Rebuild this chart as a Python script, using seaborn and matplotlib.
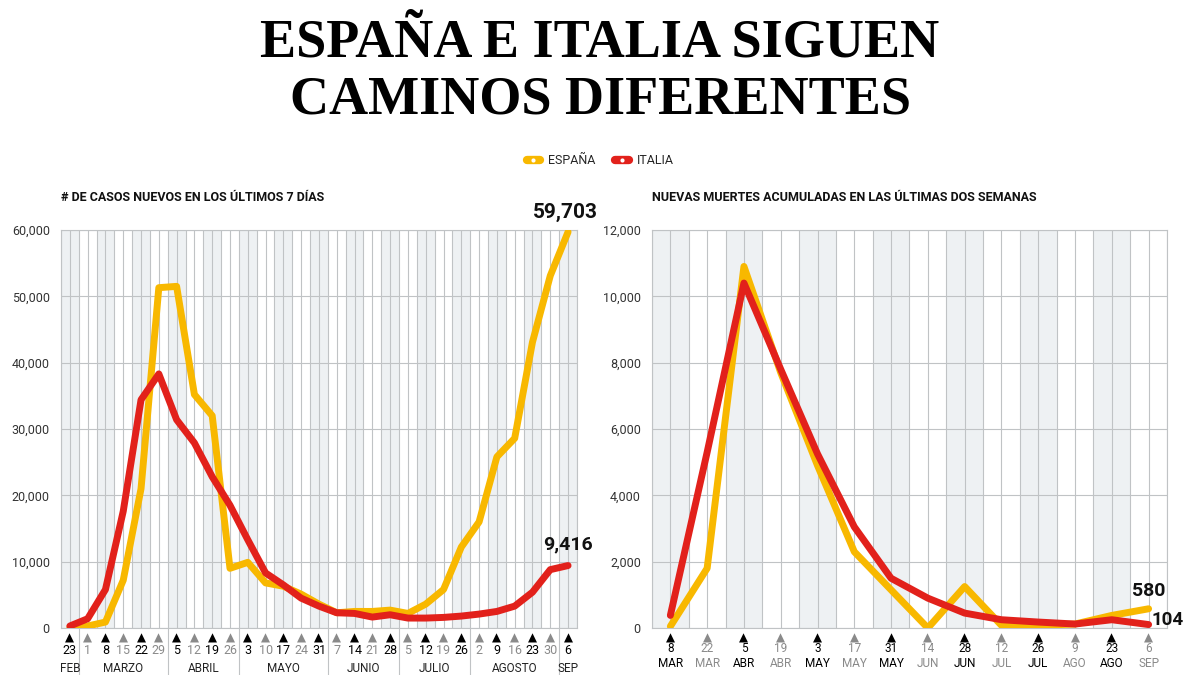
import pandas as pd
import matplotlib.pyplot as plt
import seaborn as sns
from matplotlib.lines import Line2D
from matplotlib.transforms import blended_transform_factory

# --- data ---
casos_dias = ['23', '1', '8', '15', '22', '29', '5', '12', '19', '26', '3', '10', '17', '24', '31',
              '7', '14', '21', '28', '5', '12', '19', '26', '2', '9', '16', '23', '30', '6']
casos_meses = ['FEB', 'MARZO', 'ABRIL', 'MAYO', 'JUNIO', 'JULIO', 'AGOSTO', 'SEP']
casos_espana = [100, 300, 900, 7200, 21000, 51300, 51500, 35200, 32000, 9000, 9900, 6800, 6300,
                5100, 3600, 2300, 2500, 2500, 2700, 2200, 3600, 5800, 12200, 16000, 25800, 28600,
                43100, 53100, 59703]
casos_italia = [300, 1400, 5800, 17600, 34400, 38300, 31400, 27900, 22800, 18500, 13300, 8300,
                6500, 4500, 3300, 2300, 2200, 1650, 2000, 1500, 1500, 1600, 1800, 2100, 2500,
                3300, 5400, 8800, 9416]

muertes_dias = ['8', '22', '5', '19', '3', '17', '31', '14', '28', '12', '26', '9', '23', '6']
muertes_meses = ['MAR', 'MAR', 'ABR', 'ABR', 'MAY', 'MAY', 'MAY', 'JUN', 'JUN', 'JUL', 'JUL',
                 'AGO', 'AGO', 'SEP']
muertes_espana = [50, 1800, 10900, 7700, 4900, 2300, 1150, 0, 1250, 80, 80, 120, 380, 580]
muertes_italia = [380, 5300, 10400, 7800, 5250, 3050, 1500, 900, 450, 250, 180, 120, 250, 104]

YELLOW = '#f8b800'
RED = '#e2211b'
GRID = '#c0c3c5'
SHADE = '#eef1f3'
GRAY_TXT = '#8a8a8a'
SANS = ['Roboto', 'DejaVu Sans']

sns.set_style('white')
plt.rcParams['font.family'] = SANS


def long_df(esp, ita):
    n = len(esp)
    return pd.DataFrame({
        'x': list(range(n)) * 2,
        'valor': esp + ita,
        'pais': ['ESPAÑA'] * n + ['ITALIA'] * n,
    })


def base_axes(ax, n, ymax, ystep):
    ax.set_xlim(-0.5, n - 0.5)
    ax.set_ylim(0, ymax)
    # shaded bands, every other period
    for i in range(0, n, 2):
        ax.axvspan(i - 0.5, i + 0.5, color=SHADE, lw=0, zorder=0)
    k = -0.5
    while k <= n - 0.5 + 1e-9:
        ax.axvline(k, color=GRID, lw=0.8, zorder=1)
        k += 0.5
    yt = list(range(0, ymax + 1, ystep))
    for y in yt:
        ax.axhline(y, color=GRID, lw=0.8, zorder=1)
    ax.set_yticks(yt)
    ax.set_yticklabels([f'{v:,}' for v in yt], fontsize=9, color='#333333')
    ax.tick_params(axis='y', length=0, pad=8)
    ax.set_xticks([])
    for s in ax.spines.values():
        s.set_color(GRID)
        s.set_linewidth(0.8)


fig = plt.figure(figsize=(12, 6.75), dpi=100)
ax1 = fig.add_axes([0.0508, 0.0696, 0.43, 0.5897])
ax2 = fig.add_axes([0.5433, 0.0696, 0.4292, 0.5897])

pal = {'ESPAÑA': YELLOW, 'ITALIA': RED}

# --- left chart: casos ---
base_axes(ax1, len(casos_dias), 60000, 10000)
sns.lineplot(data=long_df(casos_espana, casos_italia), x='x', y='valor', hue='pais',
             palette=pal, linewidth=5, ax=ax1, legend=False, zorder=3)
ax1.set_xlabel('')
ax1.set_ylabel('')

tr1 = blended_transform_factory(ax1.transData, ax1.transAxes)
for i, d in enumerate(casos_dias):
    c = 'black' if i % 2 == 0 else GRAY_TXT
    ax1.annotate('▲', xy=(i, 0), xycoords=tr1, xytext=(0, -7), textcoords='offset points',
                 ha='center', va='center', fontsize=8.5, color=c, family='DejaVu Sans')
    ax1.annotate(d, xy=(i, 0), xycoords=tr1, xytext=(0, -16.5), textcoords='offset points',
                 ha='center', va='center', fontsize=9, color=c)
month_pos1 = [0, 3, 7.5, 12, 16.5, 20.5, 25, 28]
for m, p in zip(casos_meses, month_pos1):
    ax1.annotate(m, xy=(p, 0), xycoords=tr1, xytext=(0, -29), textcoords='offset points',
                 ha='center', va='center', fontsize=8.5, color='#222222')
for s in [0.5, 5.5, 9.5, 14.5, 18.5, 22.5, 27.5]:
    ax1.plot([s, s], [0, -0.12], transform=tr1, color=GRID, lw=0.8, clip_on=False)

ax1.annotate(f'{casos_espana[-1]:,}', xy=(len(casos_espana) - 1, casos_espana[-1]),
             xytext=(-2, 7), textcoords='offset points', ha='center', va='bottom',
             fontsize=15, fontweight='bold', color='#111111')
ax1.annotate(f'{casos_italia[-1]:,}', xy=(len(casos_italia) - 1, casos_italia[-1]),
             xytext=(0, 9), textcoords='offset points', ha='center', va='bottom',
             fontsize=14, fontweight='bold', color='#111111')
fig.text(0.0508, 0.708, '# DE CASOS NUEVOS EN LOS ÚLTIMOS 7 DÍAS', fontsize=9,
         fontweight='bold', color='#111111', va='center')

# --- right chart: muertes ---
base_axes(ax2, len(muertes_dias), 12000, 2000)
sns.lineplot(data=long_df(muertes_espana, muertes_italia), x='x', y='valor', hue='pais',
             palette=pal, linewidth=5, ax=ax2, legend=False, zorder=3)
ax2.set_xlabel('')
ax2.set_ylabel('')

tr2 = blended_transform_factory(ax2.transData, ax2.transAxes)
for i, (d, m) in enumerate(zip(muertes_dias, muertes_meses)):
    c = 'black' if i % 2 == 0 else GRAY_TXT
    ax2.annotate('▲', xy=(i, 0), xycoords=tr2, xytext=(0, -7), textcoords='offset points',
                 ha='center', va='center', fontsize=8.5, color=c, family='DejaVu Sans')
    ax2.annotate(d, xy=(i, 0), xycoords=tr2, xytext=(0, -15), textcoords='offset points',
                 ha='center', va='center', fontsize=8.5, color=c)
    ax2.annotate(m, xy=(i, 0), xycoords=tr2, xytext=(0, -25.5), textcoords='offset points',
                 ha='center', va='center', fontsize=8.5, color=c)

ax2.annotate(f'{muertes_espana[-1]:,}', xy=(len(muertes_espana) - 1, muertes_espana[-1]),
             xytext=(0, 6), textcoords='offset points', ha='center', va='bottom',
             fontsize=14, fontweight='bold', color='#111111')
ax2.annotate(f'{muertes_italia[-1]:,}', xy=(len(muertes_italia) - 1, muertes_italia[-1]),
             xytext=(2, 3), textcoords='offset points', ha='left', va='center',
             fontsize=13.5, fontweight='bold', color='#111111')
fig.text(0.5433, 0.708, 'NUEVAS MUERTES ACUMULADAS EN LAS ÚLTIMAS DOS SEMANAS', fontsize=9,
         fontweight='bold', color='#111111', va='center')

# --- legend ---
handles = [Line2D([0], [0], color=col, lw=6, solid_capstyle='round', marker='o',
                  markersize=3, markerfacecolor='white', markeredgewidth=0)
           for col in (YELLOW, RED)]
fig.legend(handles, ['ESPAÑA', 'ITALIA'], loc='center', bbox_to_anchor=(0.5, 0.762),
           ncol=2, frameon=False, fontsize=9, handlelength=1.1, columnspacing=1.6,
           handletextpad=0.6)

# --- title ---
fig.text(0.5, 0.936, 'ESPAÑA E ITALIA SIGUEN', ha='center', va='center', fontsize=39,
         fontweight='bold', family=['Liberation Serif', 'DejaVu Serif'], color='black')
fig.text(0.5, 0.851, 'CAMINOS DIFERENTES', ha='center', va='center', fontsize=39,
         fontweight='bold', family=['Liberation Serif', 'DejaVu Serif'], color='black')

fig.savefig('out.png', dpi=100)
